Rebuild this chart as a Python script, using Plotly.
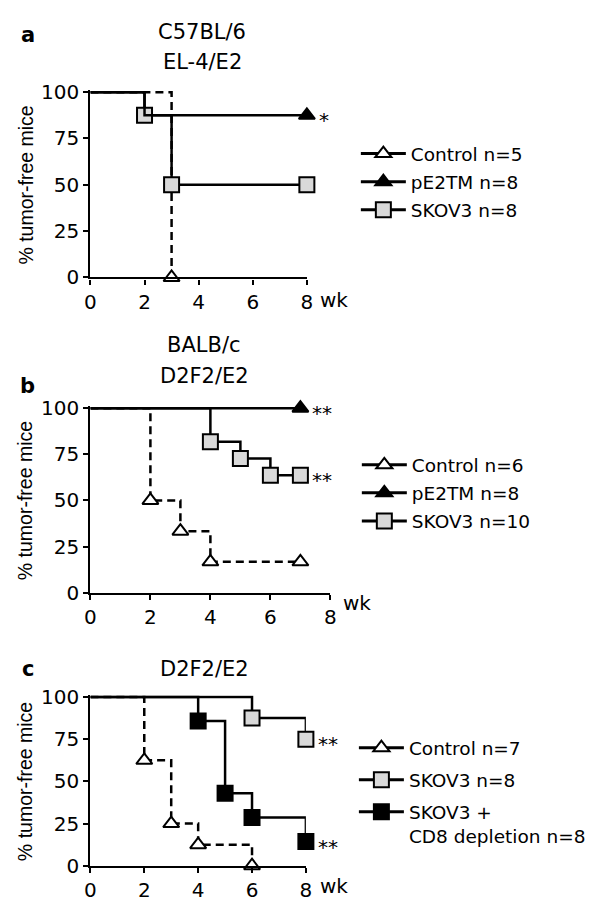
import plotly.graph_objects as go

# ---------------- data ----------------
# Panel a: C57BL/6, EL-4/E2
a_ctrl_x = [0, 3]
a_ctrl_y = [100, 0]
a_ctrl_m = [0, 1]
a_pe_x = [0, 2, 8]
a_pe_y = [100, 87.5, 87.5]
a_pe_m = [0, 0, 1]
a_sk_x = [0, 2, 3, 8]
a_sk_y = [100, 87.5, 50, 50]
a_sk_m = [0, 1, 1, 1]

# Panel b: BALB/c, D2F2/E2
b_ctrl_x = [0, 2, 3, 4, 7]
b_ctrl_y = [100, 50, 33.3, 16.7, 16.7]
b_ctrl_m = [0, 1, 1, 1, 1]
b_pe_x = [0, 7]
b_pe_y = [100, 100]
b_pe_m = [0, 1]
b_sk_x = [0, 4, 5, 6, 7]
b_sk_y = [100, 81.8, 72.7, 63.6, 63.6]
b_sk_m = [0, 1, 1, 1, 1]

# Panel c: D2F2/E2
c_ctrl_x = [0, 2, 3, 4, 6]
c_ctrl_y = [100, 62.5, 25, 12.5, 0]
c_ctrl_m = [0, 1, 1, 1, 1]
c_sk_x = [0, 6, 8]
c_sk_y = [100, 87.5, 75]
c_sk_m = [0, 1, 1]
c_cd_x = [0, 4, 5, 6, 8]
c_cd_y = [100, 85.7, 42.9, 28.6, 14.3]
c_cd_m = [0, 1, 1, 1, 1]

y_ticks = [0, 25, 50, 75, 100]
x_ticks = [0, 2, 4, 6, 8]

legend_a = ["Control n=5", "pE2TM n=8", "SKOV3 n=8"]
legend_b = ["Control n=6", "pE2TM n=8", "SKOV3 n=10"]
legend_c = ["Control n=7", "SKOV3 n=8", "SKOV3 +<br>CD8 depletion n=8"]

# ---------------- styles ----------------
PAGE_W, PAGE_H = 602, 916
BODY = 8  # default body margin of the html page
W, H = PAGE_W - 2 * BODY, PAGE_H - 2 * BODY
FONT = "DejaVu Sans"
GRAY = "#d9d9d9"
YTOP = 101  # small headroom so lines drawn at 100 are not clipped
STY = {
    "ctrl": dict(symbol="triangle-up", color="white", size=14, dash="dash"),
    "pe": dict(symbol="triangle-up", color="black", size=14, dash="solid"),
    "sk": dict(symbol="square", color=GRAY, size=15, dash="solid"),
    "cd": dict(symbol="square", color="black", size=15, dash="solid"),
}

fig = go.Figure()


def curve(x, y, m, kind, ax):
    s = STY[kind]
    fig.add_trace(go.Scatter(
        x=x, y=y, mode="lines+markers", line_shape="hv",
        line=dict(color="black", width=2.5,
                  dash="8px,5px" if s["dash"] == "dash" else "solid"),
        marker=dict(symbol=s["symbol"], color=s["color"], opacity=1,
                    size=[s["size"] * v for v in m],
                    line=dict(color="black", width=2)),
        xaxis="x" + ax, yaxis="y" + ax, showlegend=False,
        cliponaxis=False, hoverinfo="skip"))


def legend_item(name, kind, leg, ax):
    s = STY[kind]
    fig.add_trace(go.Scatter(
        x=[None], y=[None], mode="lines+markers", name=name,
        line=dict(color="black", width=3),
        marker=dict(symbol=s["symbol"], color=s["color"], size=s["size"],
                    opacity=1, line=dict(color="black", width=2)),
        xaxis="x" + ax, yaxis="y" + ax, legend=leg, legendgroup=leg + name))


# panel a
curve(a_ctrl_x, a_ctrl_y, a_ctrl_m, "ctrl", "")
curve(a_sk_x, a_sk_y, a_sk_m, "sk", "")
curve(a_pe_x, a_pe_y, a_pe_m, "pe", "")
# panel b
curve(b_ctrl_x, b_ctrl_y, b_ctrl_m, "ctrl", "2")
curve(b_sk_x, b_sk_y, b_sk_m, "sk", "2")
curve(b_pe_x, b_pe_y, b_pe_m, "pe", "2")
# panel c
curve(c_ctrl_x, c_ctrl_y, c_ctrl_m, "ctrl", "3")
curve(c_sk_x, c_sk_y, c_sk_m, "sk", "3")
curve(c_cd_x, c_cd_y, c_cd_m, "cd", "3")

for name, kind in zip(legend_a, ["ctrl", "pe", "sk"]):
    legend_item(name, kind, "legend", "")
for name, kind in zip(legend_b, ["ctrl", "pe", "sk"]):
    legend_item(name, kind, "legend2", "2")
for name, kind in zip(legend_c, ["ctrl", "sk", "cd"]):
    legend_item(name, kind, "legend3", "3")


def px_x(p):
    return (p - BODY) / W


def px_y(p):
    return 1 - (p - BODY) / H


# page-pixel positions of x=0..8 and y=0..100 in the reference
panels = {
    "": dict(x0=86, x1=307, y0=84, y1=274),
    "2": dict(x0=86, x1=331, y0=408, y1=597),
    "3": dict(x0=86, x1=306, y0=704, y1=877),
}

axis_common = dict(showline=True, linecolor="black", linewidth=2.2,
                   ticks="outside", ticklen=5, tickwidth=2, tickcolor="black",
                   showgrid=False, zeroline=False,
                   tickfont=dict(family=FONT, size=20, color="black"))

lay = {}
for k, p in panels.items():
    top = p["y1"] - (p["y1"] - p["y0"]) * YTOP / 100.0
    lay["xaxis" + k] = dict(axis_common, domain=[px_x(p["x0"]), px_x(p["x1"])],
                            range=[0, 8], tickvals=x_ticks, anchor="y" + k)
    lay["yaxis" + k] = dict(axis_common, domain=[px_y(p["y1"]), px_y(top)],
                            range=[0, YTOP], tickvals=y_ticks, anchor="x" + k)

legend_common = dict(font=dict(family=FONT, size=18.5, color="black"),
                     bgcolor="rgba(0,0,0,0)", xanchor="left", yanchor="top",
                     traceorder="grouped", itemclick=False, itemwidth=45)

fig.update_layout(
    width=W, height=H, margin=dict(l=0, r=0, t=0, b=0),
    paper_bgcolor="white", plot_bgcolor="white",
    legend=dict(legend_common, x=px_x(357), y=px_y(128), tracegroupgap=1),
    legend2=dict(legend_common, x=px_x(358), y=px_y(447), tracegroupgap=1),
    legend3=dict(legend_common, x=px_x(355), y=px_y(737), tracegroupgap=5,
                 valign="top"),
    **lay,
)

ann = []


def text(s, x, y, size=21, bold=False, angle=0, xanchor="center", family=FONT):
    ann.append(dict(text=("<b>%s</b>" % s) if bold else s, x=px_x(x), y=px_y(y),
                    xref="paper", yref="paper", showarrow=False, textangle=angle,
                    xanchor=xanchor, yanchor="middle",
                    font=dict(family=family, size=size, color="black")))


# panel letters
text("a", 22, 25, size=21, bold=True)
text("b", 22, 385, size=21, bold=True)
text("c", 22, 675, size=21, bold=True)
# titles
text("C57BL/6", 200, 22)
text("EL-4/E2", 200, 53)
text("BALB/c", 202, 343)
text("D2F2/E2", 202, 375)
text("D2F2/E2", 202, 675)
# y titles
for k, p in panels.items():
    text("% tumor-free mice", 20, (p["y0"] + p["y1"]) / 2, size=19.5, angle=-90,
         family="Liberation Sans")
# wk labels
text("wk", 318, 297, size=20, xanchor="left")
text("wk", 342, 608, size=20, xanchor="left")
text("wk", 318, 898, size=20, xanchor="left")
# significance stars (attached to data points)
stars = [("*", "", 8, 87.5), ("**", "2", 7, 100), ("**", "2", 7, 63.6),
         ("**", "3", 8, 75), ("**", "3", 8, 14.3)]
for s, k, x, y in stars:
    ann.append(dict(text=s, x=x, y=y, xref="x" + k, yref="y" + k, showarrow=False,
                    xanchor="left", yanchor="middle", xshift=10, yshift=-5,
                    font=dict(family=FONT, size=20, color="black")))

fig.update_layout(annotations=ann)
fig.write_html("out.html")
